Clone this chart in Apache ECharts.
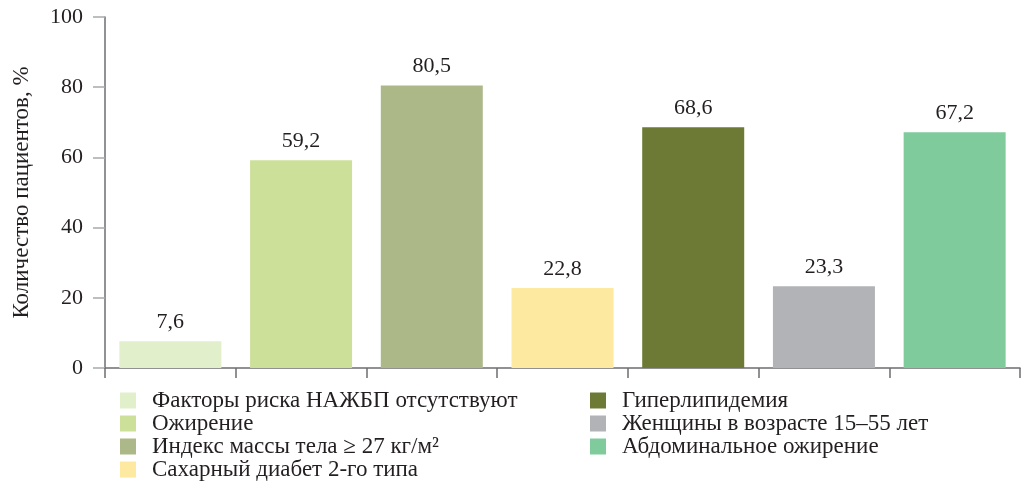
<!DOCTYPE html>
<html>
<head>
<meta charset="utf-8">
<script src="https://cdn.jsdelivr.net/npm/echarts@6/dist/echarts.min.js"></script>
<style>
html, body { margin: 0; padding: 0; background: #fff; }
#chart { width: 1026px; height: 486px; }
</style>
</head>
<body>
<div id="chart"></div>
<script>
// группы пациентов
var names = [
    'Факторы риска НАЖБП отсутствуют',
    'Ожирение',
    'Индекс массы тела ≥ 27 кг/м²',
    'Сахарный диабет 2-го типа',
    'Гиперлипидемия',
    'Женщины в возрасте 15–55 лет',
    'Абдоминальное ожирение'
];
var values = [7.6, 59.2, 80.5, 22.8, 68.6, 23.3, 67.2];
var colors = ['#e2efcb', '#cde09a', '#adb889', '#fde9a0', '#6c7a35', '#b2b3b7', '#80cb9c'];
var yTicks = [0, 20, 40, 60, 80, 100];

var font = '"Liberation Serif", "DejaVu Serif", serif';
var chart = echarts.init(document.getElementById('chart'));

// каждый столбик отдельной серией, чтобы была легенда
var series = names.map(function (n, i) {
    return {
        name: n,
        type: 'bar',
        barWidth: 102,
        barGap: '-100%',
        itemStyle: { color: colors[i] },
        data: values.map(function (v, j) { return j === i ? v : '-'; }),
        label: {
            show: true,
            position: 'top',
            distance: 8,
            color: '#231f20',
            fontFamily: font,
            fontSize: 22,
            formatter: function (p) { return String(p.value).replace('.', ','); }
        }
    };
});

function legendCol(items, left) {
    return {
        data: items,
        orient: 'vertical',
        left: left,
        top: 384,
        height: 120,
        itemWidth: 16,
        itemHeight: 16,
        itemGap: 0,
        icon: 'rect',
        textStyle: { fontFamily: font, fontSize: 23, color: '#231f20', padding: [0, 0, 0, 11] }
    };
}

chart.setOption({
    animation: false,
    backgroundColor: '#fff',
    grid: { left: 105, right: 6, top: 17, bottom: 118 },
    legend: [legendCol(names.slice(0, 4), 115), legendCol(names.slice(4), 585)],
    xAxis: {
        type: 'category',
        data: names,
        axisLine: { lineStyle: { color: '#6d6e71', width: 1.5 } },
        axisTick: { show: true, interval: 0, length: 10, lineStyle: { color: '#6d6e71', width: 1.5 } },
        axisLabel: { show: false }
    },
    yAxis: {
        type: 'value',
        min: 0,
        max: 100,
        interval: 20,
        name: 'Количество пациентов, %',
        nameLocation: 'middle',
        nameGap: 72,
        nameTextStyle: { fontFamily: font, fontSize: 23, color: '#231f20' },
        axisLine: { show: true, lineStyle: { color: '#6d6e71', width: 1.5 } },
        axisTick: { show: true, length: 12, lineStyle: { color: '#a7a9ac', width: 1.5 } },
        splitLine: { show: false },
        axisLabel: {
            margin: 22,
            fontFamily: font,
            fontSize: 22,
            color: '#231f20',
            formatter: function (v) { return yTicks.indexOf(v) >= 0 ? String(v) : ''; }
        }
    },
    series: series
});
</script>
</body>
</html>
